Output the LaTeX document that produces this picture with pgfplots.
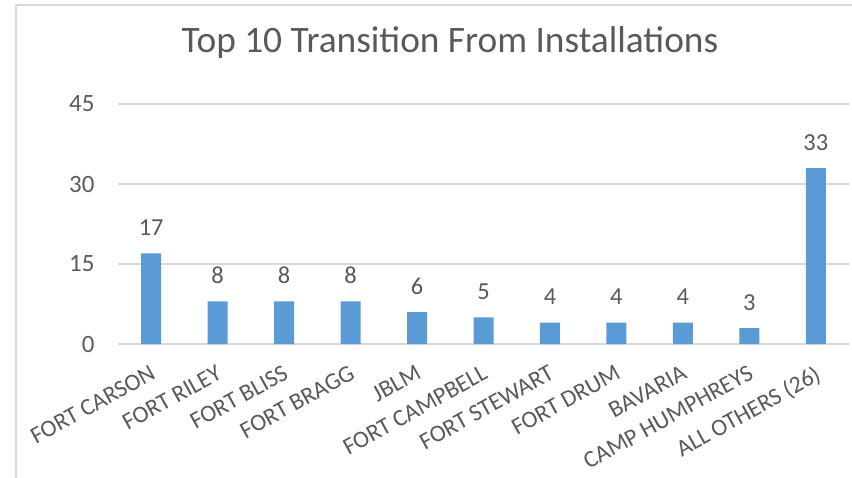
\documentclass[border=0pt]{standalone}
\usepackage{fontspec}
\setmainfont{Carlito}
\usepackage{pgfplots}
\pgfplotsset{compat=1.18}
\definecolor{barblue}{HTML}{5B9BD5}
\definecolor{textgray}{HTML}{595959}
\definecolor{gridgray}{HTML}{D9D9D9}
\begin{document}
\begin{tikzpicture}
\path[use as bounding box] (0,0) rectangle (852bp,-478bp);
\draw[color=gridgray, line width=1.2bp] (16bp,-478bp) -- (16bp,-5bp) -- (852bp,-5bp);
\node[anchor=base, font=\fontsize{37.5}{44}\selectfont, text=textgray, inner sep=0] at (450bp,-52bp) {Top 10 Transition From Installations};
\begin{axis}[
  at={(118bp,-344bp)}, anchor=south west,
  scale only axis, width=731bp, height=240bp,
  xmin=-0.5, xmax=10.5, ymin=0, ymax=45,
  ybar, bar width=20bp,
  axis line style={draw=none},
  major tick length=0pt,
  ytick={0,15,30,45},
  ymajorgrids, grid style={color=gridgray, line width=1.2bp},
  xtick={0,...,10},
  xticklabels={FORT CARSON, FORT RILEY, FORT BLISS, FORT BRAGG, JBLM, FORT CAMPBELL, FORT STEWART, FORT DRUM, BAVARIA, CAMP HUMPHREYS, ALL OTHERS (26)},
  /pgf/number format/assume math mode=true,
  tick label style={font=\fontsize{25}{30}\selectfont, text=textgray},
  yticklabel style={anchor=east, xshift=-20bp},
  xticklabel style={font=\fontsize{24}{29}\selectfont, xshift=-2bp, yshift=-20bp, rotate=29, anchor=north east, inner sep=0pt},
  nodes near coords,
  every node near coord/.append style={font=\fontsize{24.5}{29}\selectfont, text=textgray, anchor=base, yshift=18bp, inner sep=0pt},
]
\addplot[fill=barblue, draw=none] coordinates {
 (0,17) (1,8) (2,8) (3,8) (4,6) (5,5) (6,4) (7,4) (8,4) (9,3) (10,33)
};
\end{axis}
\end{tikzpicture}
\end{document}
